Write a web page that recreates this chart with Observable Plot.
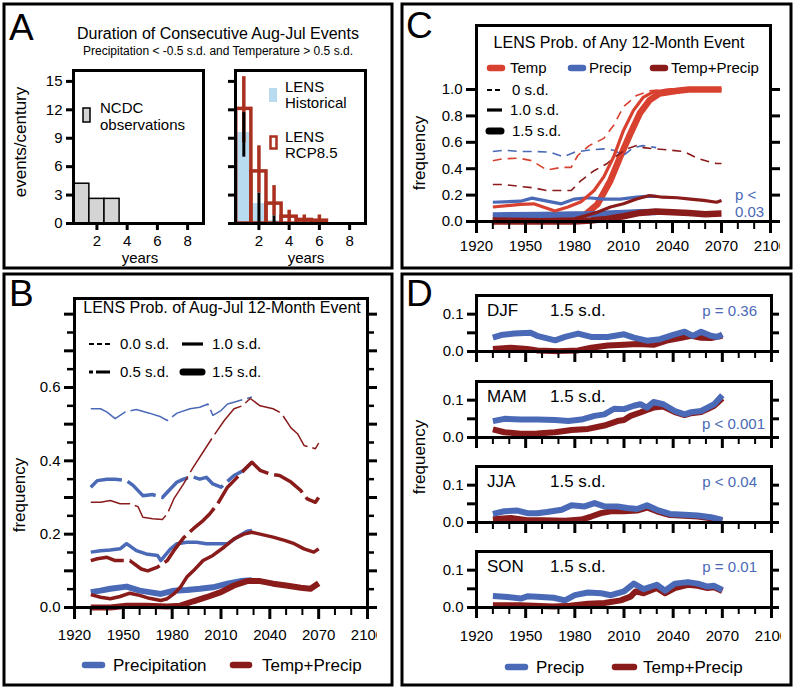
<!DOCTYPE html>
<html><head><meta charset="utf-8">
<script src="https://cdn.jsdelivr.net/npm/d3@7"></script>
<script src="https://cdn.jsdelivr.net/npm/@observablehq/plot@0.6"></script>
</head><body style="margin:0">
<div id="fig" style="position:relative;width:796px;height:689px;background:#fff"></div>
<script>
// ---------------- DATA ----------------
// Panel A: durations (years) and events/century
const aObsDur = [1, 2, 3];
const aObs = [4.2, 2.6, 2.6];
const aHistDur = [1, 2, 3];
const aHist = [9.6, 2.1, 0.3];
const aHistLo = [7.0, 0, 0];
const aHistHi = [11.7, 3.2, 0.8];
const aRcpDur = [1, 2, 3, 4, 5, 6];
const aRcp = [12.1, 5.5, 2.1, 0.72, 0.38, 0.3];
const aRcpLo = [8.5, 3.2, 0.8, 0, 0, 0];
const aRcpHi = [15.5, 8.2, 4.0, 1.4, 0.9, 0.9];
const aYTicks = [0, 3, 6, 9, 12, 15];
const aXTicks = [2, 4, 6, 8];

// Panel C: LENS prob. of any 12-month event [year, frequency]
const cTemp0 = [[1930,0.46],[1936,0.475],[1946,0.48],[1954,0.46],[1963,0.39],[1972,0.41],[1978,0.41],[1982,0.50],[1989,0.575],[1998,0.63],[2004,0.73],[2010,0.87],[2018,0.955],[2026,0.99],[2034,1.0],[2070,1.0]];
const cTemp1 = [[1930,0.11],[1947,0.13],[1955,0.134],[1968,0.08],[1976,0.11],[1984,0.15],[1992,0.235],[1998,0.34],[2004,0.49],[2010,0.69],[2016,0.84],[2022,0.94],[2028,0.98],[2039,1.0],[2070,1.0]];
const cTemp15 = [[1930,0.035],[1960,0.035],[1980,0.035],[1986,0.045],[1994,0.13],[2002,0.31],[2008,0.49],[2014,0.66],[2020,0.82],[2026,0.92],[2032,0.97],[2043,0.99],[2050,1.0],[2070,1.0]];
const cPre0 = [[1930,0.53],[1937,0.54],[1947,0.53],[1957,0.53],[1965,0.525],[1973,0.49],[1980,0.525],[1988,0.54],[1998,0.55],[2004,0.54],[2010,0.50],[2016,0.56],[2022,0.575],[2030,0.56]];
const cPre1 = [[1930,0.146],[1947,0.154],[1954,0.177],[1964,0.152],[1972,0.134],[1980,0.17],[1988,0.18],[1998,0.17],[2008,0.17],[2018,0.184],[2024,0.19],[2030,0.19]];
const cPre15 = [[1930,0.045],[1960,0.05],[1990,0.055],[2010,0.065],[2020,0.07],[2030,0.072]];
const cTP0 = [[1930,0.28],[1937,0.28],[1947,0.265],[1955,0.255],[1963,0.235],[1972,0.235],[1978,0.235],[1984,0.31],[1992,0.385],[2000,0.44],[2006,0.50],[2012,0.55],[2018,0.575],[2022,0.56],[2030,0.55],[2039,0.54],[2047,0.53],[2055,0.48],[2063,0.45],[2067,0.44],[2070,0.44]];
const cTP1 = [[1930,0.02],[1960,0.015],[1980,0.02],[1994,0.07],[2002,0.11],[2010,0.134],[2018,0.17],[2026,0.197],[2034,0.184],[2043,0.18],[2051,0.17],[2059,0.16],[2067,0.146],[2070,0.16]];
const cTP15 = [[1930,0.0],[1980,0.0],[1990,0.008],[2000,0.02],[2010,0.04],[2020,0.065],[2030,0.075],[2040,0.07],[2050,0.065],[2060,0.055],[2070,0.06]];
const cYTicks = [0, 0.2, 0.4, 0.6, 0.8, 1.0];

// Panel B: LENS prob. of Aug-Jul 12-month event
const bPre0 = [[1930,0.542],[1936,0.542],[1940,0.533],[1945,0.515],[1951,0.533],[1958,0.54],[1966,0.53],[1973,0.52],[1977,0.51],[1983,0.53],[1991,0.542],[1997,0.546],[2002,0.555],[2005,0.524],[2010,0.537],[2014,0.555],[2018,0.56],[2022,0.565],[2026,0.57],[2029,0.574]];
const bTP0 = [[1930,0.287],[1936,0.287],[1942,0.292],[1948,0.283],[1954,0.283],[1959,0.275],[1962,0.246],[1968,0.242],[1974,0.24],[1977,0.255],[1981,0.296],[1987,0.337],[1993,0.383],[1999,0.424],[2005,0.465],[2012,0.51],[2018,0.542],[2023,0.55],[2028,0.57],[2034,0.55],[2042,0.542],[2047,0.53],[2053,0.49],[2057,0.474],[2061,0.442],[2068,0.433],[2070,0.448]];
const bPre05 = [[1930,0.328],[1934,0.346],[1940,0.35],[1945,0.35],[1952,0.346],[1956,0.333],[1962,0.305],[1968,0.308],[1974,0.30],[1979,0.324],[1983,0.342],[1987,0.35],[1992,0.357],[1997,0.35],[2001,0.355],[2005,0.337],[2010,0.328],[2018,0.36],[2024,0.374],[2029,0.396]];
const bTP05 = [[1930,0.128],[1934,0.133],[1940,0.137],[1945,0.128],[1954,0.128],[1961,0.105],[1965,0.10],[1971,0.11],[1977,0.128],[1981,0.155],[1987,0.19],[1993,0.215],[1999,0.237],[2003,0.255],[2008,0.283],[2014,0.328],[2018,0.346],[2024,0.374],[2029,0.396],[2034,0.374],[2040,0.364],[2046,0.36],[2053,0.342],[2059,0.319],[2063,0.296],[2068,0.287],[2070,0.30]];
const bPre1 = [[1930,0.151],[1936,0.155],[1942,0.157],[1948,0.16],[1952,0.174],[1958,0.155],[1964,0.146],[1971,0.142],[1973,0.128],[1979,0.16],[1983,0.174],[1989,0.178],[1995,0.178],[2001,0.174],[2007,0.174],[2014,0.174],[2020,0.192],[2026,0.208],[2029,0.21]];
const bTP1 = [[1930,0.035],[1936,0.028],[1942,0.024],[1948,0.03],[1954,0.039],[1960,0.033],[1966,0.025],[1973,0.019],[1977,0.024],[1981,0.037],[1985,0.055],[1989,0.083],[1993,0.10],[1999,0.128],[2005,0.142],[2012,0.165],[2018,0.187],[2024,0.20],[2029,0.205],[2034,0.20],[2042,0.192],[2049,0.183],[2055,0.174],[2061,0.16],[2067,0.151],[2070,0.16]];
const bPre15 = [[1930,0.042],[1936,0.046],[1942,0.051],[1952,0.057],[1960,0.046],[1966,0.042],[1973,0.037],[1981,0.046],[1989,0.048],[1997,0.051],[2005,0.055],[2014,0.065],[2022,0.072],[2029,0.074]];
const bTP15 = [[1930,0.0],[1942,0.0],[1952,0.005],[1964,0.005],[1977,0.003],[1985,0.005],[1993,0.017],[2001,0.028],[2010,0.042],[2018,0.06],[2026,0.072],[2034,0.072],[2042,0.065],[2050,0.06],[2059,0.054],[2065,0.051],[2070,0.066]];
const bYLabeled = [0, 0.2, 0.4, 0.6];
const bYMajor = [0, 0.1, 0.2, 0.3, 0.4, 0.5, 0.6, 0.7, 0.8];
const bYMinor = [0.05, 0.15, 0.25, 0.35, 0.45, 0.55, 0.65, 0.75];

// Panel D: seasonal 1.5 s.d. events
const djfPre = [[1930,0.037],[1935,0.044],[1943,0.048],[1953,0.05],[1957,0.042],[1968,0.03],[1974,0.039],[1982,0.048],[1990,0.039],[2000,0.039],[2010,0.046],[2016,0.037],[2024,0.029],[2032,0.033],[2041,0.046],[2047,0.053],[2052,0.042],[2057,0.053],[2063,0.042],[2067,0.039],[2070,0.046]];
const djfTP = [[1930,0.007],[1941,0.01],[1951,0.007],[1957,0.003],[1970,0.001],[1982,0.003],[1990,0.01],[2000,0.016],[2010,0.018],[2018,0.02],[2028,0.018],[2036,0.029],[2045,0.037],[2051,0.042],[2057,0.037],[2063,0.036],[2070,0.042]];
const mamPre = [[1930,0.044],[1937,0.05],[1947,0.048],[1957,0.048],[1968,0.047],[1976,0.044],[1984,0.048],[1992,0.058],[1998,0.062],[2004,0.077],[2010,0.076],[2016,0.085],[2020,0.089],[2024,0.08],[2028,0.095],[2034,0.089],[2041,0.071],[2047,0.062],[2051,0.068],[2057,0.071],[2061,0.08],[2065,0.089],[2070,0.113]];
const mamTP = [[1930,0.022],[1937,0.014],[1947,0.01],[1957,0.011],[1968,0.014],[1978,0.02],[1988,0.023],[1998,0.032],[2006,0.044],[2010,0.047],[2014,0.058],[2020,0.067],[2024,0.074],[2028,0.08],[2034,0.083],[2041,0.068],[2047,0.06],[2051,0.065],[2057,0.068],[2061,0.076],[2065,0.085],[2070,0.105]];
const jjaPre = [[1930,0.023],[1937,0.03],[1945,0.032],[1951,0.025],[1957,0.025],[1963,0.028],[1972,0.034],[1978,0.046],[1986,0.043],[1992,0.052],[1998,0.043],[2006,0.043],[2012,0.039],[2018,0.036],[2024,0.046],[2030,0.034],[2038,0.023],[2047,0.021],[2055,0.019],[2063,0.014],[2070,0.007]];
const jjaTP = [[1930,0.009],[1941,0.012],[1951,0.006],[1961,0.006],[1974,0.005],[1984,0.008],[1990,0.016],[1996,0.025],[2002,0.03],[2010,0.03],[2018,0.032],[2024,0.04],[2030,0.03],[2038,0.02],[2047,0.018],[2055,0.016],[2063,0.011],[2070,0.005]];
const sonPre = [[1930,0.031],[1937,0.029],[1947,0.024],[1951,0.03],[1957,0.029],[1967,0.026],[1974,0.019],[1980,0.033],[1988,0.04],[1996,0.038],[2002,0.033],[2010,0.043],[2016,0.064],[2022,0.049],[2030,0.061],[2035,0.045],[2041,0.064],[2049,0.068],[2055,0.064],[2061,0.056],[2065,0.058],[2070,0.047]];
const sonTP = [[1930,0.006],[1947,0.006],[1967,0.003],[1977,0.005],[1988,0.01],[1998,0.012],[2008,0.019],[2014,0.029],[2017,0.043],[2022,0.038],[2030,0.052],[2035,0.038],[2041,0.052],[2049,0.061],[2055,0.058],[2061,0.052],[2065,0.054],[2070,0.044]];
const seasons = ["DJF", "MAM", "JJA", "SON"];
const seasonP = ["p = 0.36", "p < 0.001", "p < 0.04", "p = 0.01"];
const dYLabeled = [0, 0.1];
const dYAll = [0, 0.05, 0.1];

const yearMajor = [1920, 1950, 1980, 2010, 2040, 2070, 2100];
const yearMinor = [1930, 1940, 1960, 1970, 1990, 2000, 2020, 2030, 2050, 2060, 2080, 2090];

// ---------------- STYLE ----------------
const FONT = '"Liberation Sans", Arial, Helvetica, sans-serif';
const BLUE = "#4a69b6", RED = "#d8412f", DRED = "#8a1b1b";
const LBLUE = "#b8dbef", GRAY = "#d4d4d4", ARED = "#a9301f";
const fig = document.getElementById("fig");
const f1 = d3.format(".1f");

function addSvg(svg, left, top) {
  svg.style.position = "absolute";
  svg.style.left = left + "px";
  svg.style.top = top + "px";
  fig.appendChild(svg);
}
// main chart: frame at (FL, FT) with size fw x fh
function panelPlot({FL, FT, fw, fh, xd, yd, marks}) {
  const ml = 60, mt = 10, mr = 10, mb = 45;
  const svg = Plot.plot({
    width: ml + fw + mr, height: mt + fh + mb,
    marginLeft: ml, marginTop: mt, marginRight: mr, marginBottom: mb,
    x: {domain: xd, axis: null}, y: {domain: yd, axis: null},
    style: {fontFamily: FONT, fontSize: "15px", background: "transparent"},
    marks
  });
  addSvg(svg, FL - ml, FT - mt);
}
// tick strips: zero-margin plots sharing the panel's scale domain, placed against the frame
function strip(left, top, width, height, x, y, marks) {
  const svg = Plot.plot({width, height, marginTop: 0, marginRight: 0, marginBottom: 0, marginLeft: 0,
    x: {...x, axis: null}, y: {...y, axis: null}, style: {background: "transparent"}, marks});
  addSvg(svg, left, top);
}
function ticksBelow(FL, FB, fw, xd, specs) {
  const H = Math.max(...specs.map(s => s[1])) + 1;
  strip(FL - 3, FB, fw + 6, H, {domain: xd, range: [3, fw + 3]}, {domain: [0, H], range: [0, H]},
    specs.map(([vals, len, w]) => Plot.ruleX(vals, {x: d => d, y1: 0, y2: len, stroke: "#000", strokeWidth: w})));
}
function ticksLeft(FL, FT, fh, yd, specs) {
  const W = Math.max(...specs.map(s => s[1])) + 1;
  strip(FL - W, FT - 3, W, fh + 6, {domain: [0, W], range: [0, W]}, {domain: yd, range: [fh + 3, 3]},
    specs.map(([vals, len, w]) => Plot.ruleY(vals, {y: d => d, x1: W - len, x2: W, stroke: "#000", strokeWidth: w})));
}
function ticksRight(FR, FT, fh, yd, specs) {
  const W = Math.max(...specs.map(s => s[1])) + 1;
  strip(FR, FT - 3, W, fh + 6, {domain: [0, W], range: [0, W]}, {domain: yd, range: [fh + 3, 3]},
    specs.map(([vals, len, w]) => Plot.ruleY(vals, {y: d => d, x1: 0, x2: len, stroke: "#000", strokeWidth: w})));
}
const L = (data, stroke, w, dash) => Plot.line(data, {x: d => d[0], y: d => d[1], stroke, strokeWidth: w, strokeDasharray: dash, strokeLinejoin: "round", strokeLinecap: "butt"});
const xLabels = (vals, y0, dy, fmt = d => String(d)) => Plot.text(vals, {x: d => d, y: y0, dy, text: fmt, fontSize: 15, fill: "#000"});
const yLabels = (vals, x0, dx, fmt) => Plot.text(vals, {y: d => d, x: x0, dx: -dx, text: fmt, textAnchor: "end", fontSize: 15, fill: "#000"});

// ---------------- PANEL A ----------------
const aXD = [0.45, 9.05], aYD = [0, 16.15];
const aFT = 70, aFW = 130, aFH = 153;
panelPlot({FL: 73, FT: aFT, fw: aFW, fh: aFH, xd: aXD, yd: aYD, marks: [
  Plot.rectY(aObsDur, {x1: d => d - 0.5, x2: d => d + 0.5, y: (d, i) => aObs[i], fill: GRAY, stroke: "#000", strokeWidth: 1.5}),
  Plot.frame({strokeWidth: 3}),
  yLabels(aYTicks, aXD[0], 11, d => String(d)),
  xLabels(aXTicks, 0, 18)
]});
panelPlot({FL: 235, FT: aFT, fw: aFW, fh: aFH, xd: aXD, yd: aYD, marks: [
  Plot.rectY(aHistDur, {x1: d => d - 0.5, x2: d => d + 0.5, y: (d, i) => aHist[i], fill: LBLUE}),
  Plot.rectY(aRcpDur, {x1: d => d - 0.5, x2: d => d + 0.5, y: (d, i) => aRcp[i], fill: "none", stroke: ARED, strokeWidth: 3.5}),
  Plot.ruleX(aRcpDur, {x: d => d, y1: (d, i) => aRcpLo[i], y2: (d, i) => aRcpHi[i], stroke: ARED, strokeWidth: 3.5}),
  Plot.ruleX(aHistDur, {x: d => d, y1: (d, i) => aHistLo[i], y2: (d, i) => aHistHi[i], stroke: "#000", strokeWidth: 3}),
  Plot.frame({strokeWidth: 3}),
  xLabels(aXTicks, 0, 18)
]});
[73, 235].forEach(FL => {
  ticksLeft(FL, aFT, aFH, aYD, [[aYTicks, 7, 3]]);
  ticksBelow(FL, aFT + aFH, aFW, aXD, [[aXTicks, 7, 3]]);
});

// ---------------- PANEL C ----------------
const cYD = [0, 1.485];
panelPlot({FL: 476, FT: 25, fw: 294, fh: 196, xd: [1920, 2100], yd: cYD, marks: [
  L(cTemp15, RED, 6.5),
  L(cPre0, BLUE, 1.6, "9,6"), L(cPre1, BLUE, 3.2), L(cPre15, BLUE, 6.5),
  L(cTP0, DRED, 1.6, "9,6"), L(cTP1, DRED, 3.2), L(cTP15, DRED, 6.5),
  L(cTemp0, RED, 1.6, "9,6"), L(cTemp1, RED, 3.2),
  Plot.frame({strokeWidth: 3}),
  yLabels(cYTicks, 1920, 14, f1),
  xLabels(yearMajor, 0, 25)
]});
ticksLeft(476, 25, 196, cYD, [[cYTicks, 10, 3]]);
ticksRight(770, 25, 196, cYD, [[cYTicks, 10, 3]]);
ticksBelow(476, 221, 294, [1920, 2100], [[yearMajor, 12, 3], [yearMinor, 8, 2]]);

// ---------------- PANEL B ----------------
const bYD = [0, 0.8427];
panelPlot({FL: 74, FT: 298, fw: 293, fh: 309, xd: [1920, 2100], yd: bYD, marks: [
  L(bPre0, BLUE, 1.5, "40,5"), L(bPre05, BLUE, 3.5, "34,6"), L(bPre1, BLUE, 3.5), L(bPre15, BLUE, 6),
  L(bTP0, DRED, 1.5, "40,5"), L(bTP05, DRED, 3.5, "34,6"), L(bTP1, DRED, 3.5), L(bTP15, DRED, 6),
  Plot.frame({strokeWidth: 3}),
  yLabels(bYLabeled, 1920, 14, f1),
  xLabels(yearMajor, 0, 28)
]});
ticksLeft(74, 298, 309, bYD, [[bYMajor, 10, 3], [bYMinor, 7, 2.5]]);
ticksRight(367, 298, 309, bYD, [[bYMajor, 10, 3], [bYMinor, 7, 2.5]]);
ticksBelow(74, 607, 293, [1920, 2100], [[yearMajor, 12, 3], [yearMinor, 8, 2]]);

// ---------------- PANEL D ----------------
const dTops = [295, 381, 466, 551];
const dYD = [0, 0.15];
const dSeries = [[djfPre, djfTP], [mamPre, mamTP], [jjaPre, jjaTP], [sonPre, sonTP]];
dSeries.forEach(([pre, tp], k) => {
  const FT = dTops[k];
  const marks = [
    L(tp, DRED, 6), L(pre, BLUE, 6),
    Plot.frame({strokeWidth: 3}),
    yLabels(dYLabeled, 1920, 13, f1)
  ];
  if (k === 3) marks.push(xLabels(yearMajor, 0, 29));
  panelPlot({FL: 476, FT, fw: 295, fh: 56, xd: [1920, 2100], yd: dYD, marks});
  ticksLeft(476, FT, 56, dYD, [[dYAll, 9, 3]]);
  ticksRight(771, FT, 56, dYD, [[dYAll, 8, 3]]);
  ticksBelow(476, FT + 56, 295, [1920, 2100], [[yearMajor, 11, 3], [yearMinor, 7, 2]]);
});

// ---------------- OVERLAY: borders, titles, legends ----------------
const ov = d3.create("svg").attr("width", 796).attr("height", 689)
  .style("position", "absolute").style("left", "0px").style("top", "0px")
  .attr("font-family", FONT);
function txt(x, y, s, size, anchor = "start", fill = "#000") {
  ov.append("text").attr("x", x).attr("y", y).attr("font-size", size).attr("text-anchor", anchor).attr("fill", fill).text(s);
}
function vtxt(x, y, s, size) {
  ov.append("text").attr("transform", `translate(${x},${y}) rotate(-90)`).attr("text-anchor", "middle").attr("font-size", size).text(s);
}
function seg(x1, x2, y, color, w, dash, cap = "butt") {
  ov.append("line").attr("x1", x1).attr("x2", x2).attr("y1", y).attr("y2", y)
    .attr("stroke", color).attr("stroke-width", w).attr("stroke-dasharray", dash || null).attr("stroke-linecap", cap);
}
// panel borders
[[4, 4, 388, 264], [4, 274, 388, 411], [402, 4, 389, 264], [402, 274, 389, 411]].forEach(([x, y, w, h]) =>
  ov.append("rect").attr("x", x).attr("y", y).attr("width", w).attr("height", h).attr("fill", "none").attr("stroke", "#000").attr("stroke-width", 3));
// letters
txt(9, 40, "A", 37); txt(9, 306, "B", 37); txt(406, 38, "C", 37); txt(406, 306, "D", 37);

// Panel A texts
txt(218, 39, "Duration of Consecutive Aug-Jul Events", 16, "middle");
txt(218, 55, "Precipitation < -0.5 s.d. and Temperature > 0.5 s.d.", 12, "middle");
vtxt(26, 142, "events/century", 17);
txt(140, 263, "years", 15, "middle");
txt(306, 263, "years", 15, "middle");
ov.append("rect").attr("x", 83).attr("y", 108).attr("width", 7).attr("height", 14).attr("fill", GRAY).attr("stroke", "#000").attr("stroke-width", 1.5);
txt(100, 113, "NCDC", 15); txt(100, 130, "observations", 15);
ov.append("rect").attr("x", 269).attr("y", 88).attr("width", 8).attr("height", 14).attr("fill", LBLUE);
txt(285, 92, "LENS", 15); txt(285, 108, "Historical", 15);
ov.append("rect").attr("x", 270.5).attr("y", 136.5).attr("width", 6).attr("height", 12).attr("fill", "none").attr("stroke", ARED).attr("stroke-width", 2.5);
txt(285, 142, "LENS", 15); txt(285, 158, "RCP8.5", 15);

// Panel C texts
txt(619, 48, "LENS Prob. of Any 12-Month Event", 16, "middle");
seg(490, 502, 68, RED, 6.5, null, "round"); txt(510, 73, "Temp", 15);
seg(571, 583, 68, BLUE, 6.5, null, "round"); txt(589, 73, "Precip", 15);
seg(653, 665, 68, DRED, 6.5, null, "round"); txt(671, 73, "Temp+Precip", 15);
seg(487, 500, 90, "#000", 2, "5,3"); txt(512, 95, "0 s.d.", 15);
seg(487, 502, 110, "#000", 3.2); txt(510, 115, "1.0 s.d.", 15);
seg(489, 501, 131, "#000", 7, null, "round"); txt(512, 136, "1.5 s.d.", 15);
vtxt(425, 153, "frequency", 17);
txt(735, 200, "p <", 15, "start", BLUE); txt(735, 217, "0.03", 15, "start", BLUE);

// Panel B texts
txt(222, 313, "LENS Prob. of Aug-Jul 12-Month Event", 16, "middle");
seg(89, 110, 344, "#000", 2, "5,3"); txt(120, 349, "0.0 s.d.", 15);
seg(182, 203, 344, "#000", 3.2); txt(212, 349, "1.0 s.d.", 15);
seg(89, 110, 372, "#000", 3.2, "4,3,14"); txt(120, 377, "0.5 s.d.", 15);
seg(183, 202, 372, "#000", 7, null, "round"); txt(212, 377, "1.5 s.d.", 15);
vtxt(25, 495, "frequency", 17);
seg(85, 102, 665, BLUE, 6.5, null, "round"); txt(113, 671, "Precipitation", 17);
seg(233, 249, 665, DRED, 6.5, null, "round"); txt(262, 671, "Temp+Precip", 17);

// Panel D texts
dTops.forEach((t, k) => {
  txt(487, t + 21, seasons[k], 17);
  txt(550, t + 21, "1.5 s.d.", 17);
  if (k === 1) txt(765, 429, seasonP[k], 15, "end", BLUE);
  else txt(757, t + 21, seasonP[k], 15, "end", BLUE);
});
vtxt(425, 457, "frequency", 17);
seg(508, 525, 667, BLUE, 6.5, null, "round"); txt(536, 673, "Precip", 17);
seg(615, 634, 667, DRED, 6.5, null, "round"); txt(643, 673, "Temp+Precip", 17);

fig.appendChild(ov.node());
</script>
</body></html>
